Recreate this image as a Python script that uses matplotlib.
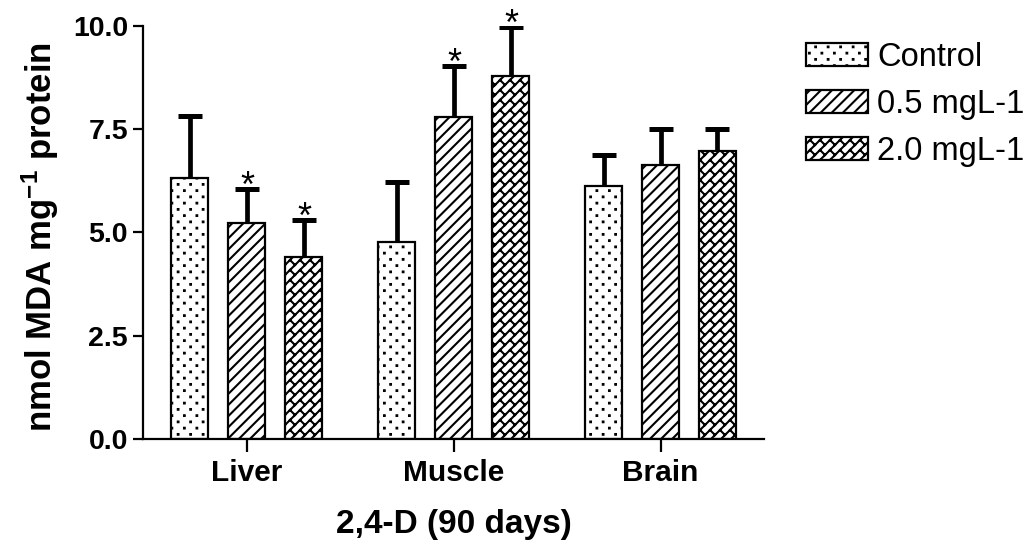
import numpy as np
import matplotlib
matplotlib.use('Agg')
import matplotlib.pyplot as plt
import matplotlib.hatch as mhatch
from matplotlib.path import Path

# ---------------- data ----------------
tissues = ['Liver', 'Muscle', 'Brain']
groups = ['Control', '0.5 mgL-1', '2.0 mgL-1']
control_mean = [6.31, 4.78, 6.12]
control_sem = [1.51, 1.45, 0.75]
low_mean = [5.22, 7.80, 6.63]
low_sem = [0.83, 1.23, 0.87]
high_mean = [4.40, 8.78, 6.97]
high_sem = [0.90, 1.18, 0.53]
control_sig = [False, False, False]
low_sig = [True, True, False]
high_sig = [True, True, False]
y_ticks = [0.0, 2.5, 5.0, 7.5, 10.0]

# ---------------- custom hatch patterns ----------------
def _dots_path(rows=16, cols=8, s=0.0035):
    verts, codes = [], []
    for i in range(-1, rows + 2):
        y = (i + 0.5) / rows
        off = 0.5 / cols if i % 2 else 0.0
        for j in range(-1, cols + 2):
            x = j / cols + off + 0.25 / cols
            sq = [(x - s, y - s), (x + s, y - s), (x + s, y + s), (x - s, y + s), (x - s, y - s)]
            verts += sq
            codes += [Path.MOVETO, Path.LINETO, Path.LINETO, Path.LINETO, Path.CLOSEPOLY]
    return Path(verts, codes)


def _brick_path(n=10):
    verts, codes = [], []
    for k in range(-n - 2, n + 3):
        c = k / n
        verts += [(c - 0.5, -0.5), (c + 1.5, 1.5)]
        codes += [Path.MOVETO, Path.LINETO]
    for k in range(-n - 2, n + 3):
        a0, a1 = k / n, (k + 1) / n
        for j in range(-4, 2 * n + 5):
            if (j - k) % 2:
                continue
            b = j / n
            p0 = ((a0 + b) / 2, (b - a0) / 2)
            p1 = ((a1 + b) / 2, (b - a1) / 2)
            if max(p0[0], p1[0]) < -0.2 or min(p0[0], p1[0]) > 1.2:
                continue
            if max(p0[1], p1[1]) < -0.2 or min(p0[1], p1[1]) > 1.2:
                continue
            verts += [p0, p1]
            codes += [Path.MOVETO, Path.LINETO]
    return Path(verts, codes)

_DOTS = _dots_path()
_BRICK = _brick_path()
_orig_get_path = mhatch.get_path

def _get_path(hatchpattern, density=6):
    if hatchpattern == '..':
        return _DOTS
    if hatchpattern == 'xx':
        return _BRICK
    return _orig_get_path(hatchpattern, density)

mhatch.get_path = _get_path

# ---------------- style ----------------
plt.rcParams['font.family'] = ['Liberation Sans', 'DejaVu Sans']
plt.rcParams['mathtext.default'] = 'regular'
plt.rcParams['hatch.linewidth'] = 1.5
plt.rcParams['hatch.color'] = 'black'

W, H = 1030, 546
fig = plt.figure(figsize=(W / 100, H / 100), dpi=100)
ax = fig.add_axes([143.3 / W, 1 - 439.3 / H, (764 - 143.3) / W, (439.3 - 25.7) / H])

x = np.arange(len(tissues))
offsets = [-0.275, 0.0, 0.275]
width = 0.18
means = [control_mean, low_mean, high_mean]
sems = [control_sem, low_sem, high_sem]
sigs = [control_sig, low_sig, high_sig]
hatches = ['..', '///', 'xx']

for gi in range(3):
    m = np.array(means[gi])
    e = np.array(sems[gi])
    cont = ax.bar(x + offsets[gi], m, width, color='white', edgecolor='black',
                  linewidth=1.6, hatch=hatches[gi], label=groups[gi], zorder=2,
                  yerr=[np.zeros_like(e), e],
                  error_kw=dict(ecolor='black', elinewidth=3.4, capsize=8.5,
                                capthick=3.6, zorder=3))
    caplines = cont.errorbar.lines[1]
    if len(caplines) > 0:
        caplines[0].set_visible(False)
    for xi, mi, ei, s in zip(x + offsets[gi], m, e, sigs[gi]):
        if s:
            ax.annotate('*', xy=(xi, mi + ei), xytext=(0.5, -5.5), textcoords='offset points',
                        ha='center', va='baseline', fontsize=26, color='black')

ax.set_xlim(-0.5, 2.5)
ax.set_ylim(0, 10)
ax.set_yticks(y_ticks)
ax.set_yticklabels([f'{t:.1f}' for t in y_ticks], fontsize=20.5, fontweight='bold')
ax.set_xticks(x)
ax.set_xticklabels(tissues, fontsize=21.5, fontweight='bold')
for side in ['top', 'right']:
    ax.spines[side].set_visible(False)
for side in ['left', 'bottom']:
    ax.spines[side].set_linewidth(1.6)
ax.tick_params(axis='y', direction='out', length=7, width=1.6, pad=4)
ax.tick_params(axis='x', direction='out', length=9, width=1.6, pad=5)

ax.set_ylabel('nmol MDA mg$^{-1}$ protein', fontsize=25, fontweight='bold')
ax.yaxis.set_label_coords(-0.132, 0.49)
ax.set_xlabel('2,4-D (90 days)', fontsize=24, fontweight='bold', labelpad=16)

leg = fig.legend(loc='upper left', bbox_to_anchor=(806 / W, 1 - 42 / H), frameon=False,
                 fontsize=23.5, handlelength=1.9, handleheight=0.72, handletextpad=0.28,
                 labelspacing=0.49, borderpad=0, borderaxespad=0)
for p in leg.get_patches():
    p.set_linewidth(1.6)

fig.savefig('out.png', dpi=100)
